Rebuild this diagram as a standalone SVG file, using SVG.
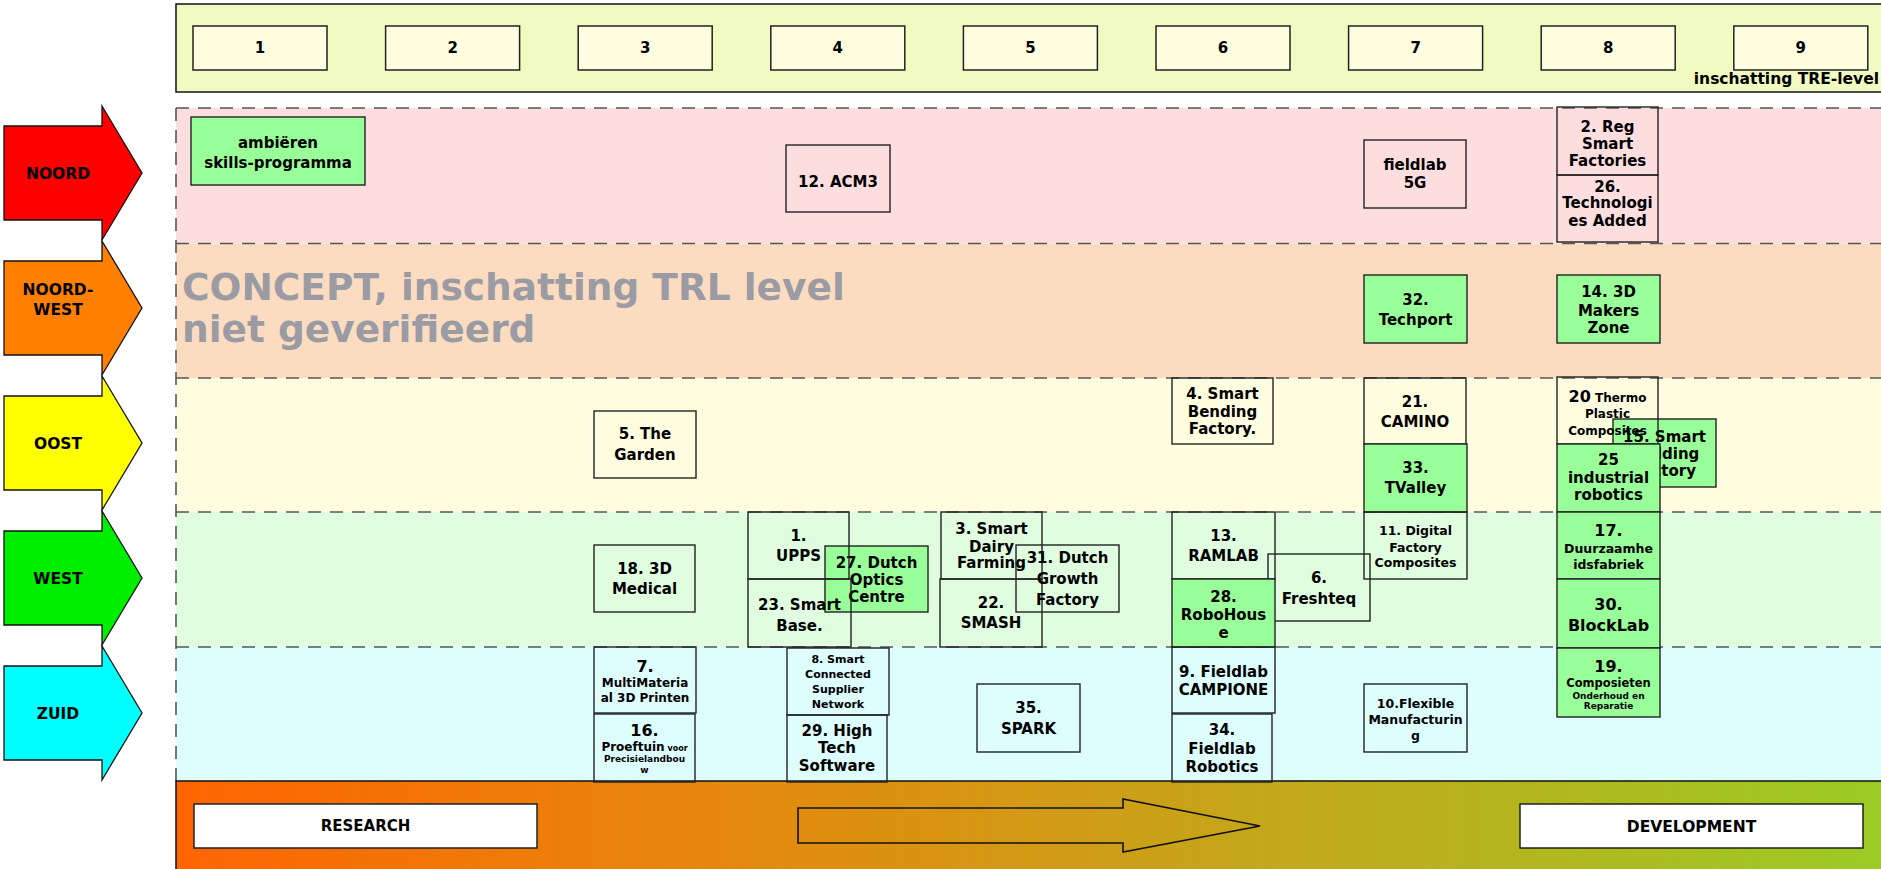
<svg xmlns="http://www.w3.org/2000/svg" xmlns:xlink="http://www.w3.org/1999/xlink" width="1881" height="869" viewBox="0 0 1881 869">
<style>
.t{font-family:"DejaVu Sans","Liberation Sans",sans-serif;font-weight:bold;text-anchor:middle;fill:#000}
.s15{font-size:15px}.s16{font-size:16px}.s125{font-size:12.5px}.s12{font-size:12px}.s11{font-size:11px}.s9{font-size:9px}
.lab{font-size:15.5px}
.n{fill:none;stroke:#222;stroke-width:1.4}
.g{fill:#99FF99;stroke:#222;stroke-width:1.4}
.trl{fill:#FFFDE0;stroke:#222;stroke-width:1.5}
.dash{stroke:#555;stroke-width:1.6;stroke-dasharray:13 9;fill:none}
.reg{stroke:#111;stroke-width:1.3}
</style>
<defs>
<linearGradient id="grad" x1="176" y1="0" x2="1881" y2="0" gradientUnits="userSpaceOnUse">
<stop offset="0" stop-color="#FF6500"/>
<stop offset="0.35" stop-color="#E38B0E"/>
<stop offset="0.65" stop-color="#C2A81A"/>
<stop offset="1" stop-color="#9CCB24"/>
</linearGradient>
<polygon id="regArrow" points="4,-47 102,-47 102,-67 142,0 102,67 102,47 4,47"/>
</defs>
<rect width="1881" height="869" fill="#fff"/>

<!-- TRL header band -->
<g id="trl-header">
<rect x="176" y="4" width="1712" height="88" fill="#F1FBC1" stroke="#111" stroke-width="1.5"/>
<rect class="trl" x="193" y="26" width="134" height="44"/><text class="t s15" x="260" y="53.4">1</text>
<rect class="trl" x="385.6" y="26" width="134" height="44"/><text class="t s15" x="452.6" y="53.4">2</text>
<rect class="trl" x="578.2" y="26" width="134" height="44"/><text class="t s15" x="645.2" y="53.4">3</text>
<rect class="trl" x="770.8" y="26" width="134" height="44"/><text class="t s15" x="837.8" y="53.4">4</text>
<rect class="trl" x="963.4" y="26" width="134" height="44"/><text class="t s15" x="1030.4" y="53.4">5</text>
<rect class="trl" x="1156" y="26" width="134" height="44"/><text class="t s15" x="1223" y="53.4">6</text>
<rect class="trl" x="1348.6" y="26" width="134" height="44"/><text class="t s15" x="1415.6" y="53.4">7</text>
<rect class="trl" x="1541.2" y="26" width="134" height="44"/><text class="t s15" x="1608.2" y="53.4">8</text>
<rect class="trl" x="1733.8" y="26" width="134" height="44"/><text class="t s15" x="1800.8" y="53.4">9</text>
<text class="t" x="1879" y="84" style="font-size:15.5px;text-anchor:end">inschatting TRE-level</text>
</g>

<!-- lanes -->
<g id="lanes">
<rect x="176" y="108" width="1712" height="135.5" fill="#FDDEDF"/>
<rect x="176" y="243.5" width="1712" height="134.5" fill="#FCDCC1"/>
<rect x="176" y="378" width="1712" height="134" fill="#FFFDE0"/>
<rect x="176" y="512" width="1712" height="135" fill="#E0FDE0"/>
<rect x="176" y="647" width="1712" height="134" fill="#DEFEFE"/>
<path class="dash" d="M176 108H1881M176 243.5H1881M176 378H1881M176 512H1881M176 647H1881M176 108V781"/>
</g>

<!-- region arrows -->
<g id="region-noord"><use xlink:href="#regArrow" href="#regArrow" class="reg" fill="#FF0000" transform="translate(0,173)"/><text class="t lab" x="58" y="178.6">NOORD</text></g>
<g id="region-noordwest"><use xlink:href="#regArrow" href="#regArrow" class="reg" fill="#FF8000" transform="translate(0,308)"/><text class="t lab" x="58" y="294.6">NOORD-</text><text class="t lab" x="58" y="314.6">WEST</text></g>
<g id="region-oost"><use xlink:href="#regArrow" href="#regArrow" class="reg" fill="#FFFF00" transform="translate(0,443)"/><text class="t lab" x="58" y="448.6">OOST</text></g>
<g id="region-west"><use xlink:href="#regArrow" href="#regArrow" class="reg" fill="#00EE00" transform="translate(0,578)"/><text class="t lab" x="58" y="583.6">WEST</text></g>
<g id="region-zuid"><use xlink:href="#regArrow" href="#regArrow" class="reg" fill="#00FFFF" transform="translate(0,713)"/><text class="t lab" x="58" y="718.6">ZUID</text></g>

<!-- concept watermark -->
<g id="concept-note">
<text x="182" y="300" style="font-family:'DejaVu Sans','Liberation Sans',sans-serif;font-weight:bold;font-size:37.5px;fill:#9B9BA3">CONCEPT, inschatting TRL level</text>
<text x="182" y="342" style="font-family:'DejaVu Sans','Liberation Sans',sans-serif;font-weight:bold;font-size:37.5px;fill:#9B9BA3">niet geverifieerd</text>
</g>

<!-- bottom band -->
<g id="research-development">
<rect x="176" y="781" width="1712" height="92" fill="url(#grad)" stroke="#111" stroke-width="1.5"/>
<rect x="194" y="804" width="343" height="44" fill="#fff" stroke="#222" stroke-width="1.5"/>
<text class="t s15" x="365.5" y="831.4">RESEARCH</text>
<rect x="1520" y="804" width="343" height="44" fill="#fff" stroke="#222" stroke-width="1.5"/>
<text class="t" x="1691.5" y="831.6" style="font-size:15.5px">DEVELOPMENT</text>
</g>
<g id="connectors">
<polygon points="798,808 1123,808 1123,799 1260,826 1123,852 1123,843 798,843" fill="none" stroke="#111" stroke-width="1.6"/>
</g>

<!-- NOORD nodes -->
<g id="node-ambieren"><rect class="g" x="191" y="117" width="174" height="68"/><text class="t s15" x="278" y="148.4">ambiëren</text><text class="t s15" x="278" y="168.4">skills-programma</text></g>
<g id="node-12"><rect class="n" x="786" y="145" width="104" height="67"/><text class="t s15" x="838" y="187.4">12. ACM3</text></g>
<g id="node-fieldlab5g"><rect class="n" x="1364" y="140" width="102" height="68"/><text class="t s15" x="1415" y="170.4">fieldlab</text><text class="t s15" x="1415" y="188.4">5G</text></g>
<g id="node-2"><rect class="n" x="1557" y="107" width="101" height="68"/><text class="t s15" x="1607.5" y="132.4">2. Reg</text><text class="t s15" x="1607.5" y="149.4">Smart</text><text class="t s15" x="1607.5" y="166.4">Factories</text></g>
<g id="node-26"><rect class="n" x="1557" y="175" width="101" height="67"/><text class="t s15" x="1607.5" y="192.4">26.</text><text class="t s15" x="1607.5" y="208.4">Technologi</text><text class="t s15" x="1607.5" y="226.4">es Added</text></g>

<!-- NOORD-WEST nodes -->
<g id="node-32"><rect class="g" x="1364" y="275" width="103" height="68"/><text class="t s15" x="1415.5" y="305.4">32.</text><text class="t s15" x="1415.5" y="325.4">Techport</text></g>
<g id="node-14"><rect class="g" x="1557" y="275" width="103" height="68"/><text class="t s15" x="1608.5" y="297.4">14. 3D</text><text class="t s15" x="1608.5" y="316.4">Makers</text><text class="t s15" x="1608.5" y="333.4">Zone</text></g>

<!-- OOST nodes -->
<g id="node-5"><rect class="n" x="594" y="411" width="102" height="67"/><text class="t s15" x="645" y="439.4">5. The</text><text class="t s15" x="645" y="460.4">Garden</text></g>
<g id="node-4"><rect class="n" x="1172" y="378" width="101" height="66"/><text class="t s15" x="1222.5" y="399.4">4. Smart</text><text class="t s15" x="1222.5" y="417.4">Bending</text><text class="t s15" x="1222.5" y="434.4">Factory.</text></g>
<g id="node-21"><rect class="n" x="1364" y="378" width="102" height="66"/><text class="t s15" x="1415" y="407.4">21.</text><text class="t s15" x="1415" y="427.4">CAMINO</text></g>
<g id="node-33"><rect class="g" x="1364" y="444" width="103" height="68"/><text class="t s15" x="1415.5" y="473.4">33.</text><text class="t s15" x="1415.5" y="493.4">TValley</text></g>
<g id="node-15"><rect class="g" x="1613" y="419" width="103" height="68"/><text class="t s15" x="1664.5" y="442.4">15. Smart</text><text class="t s15" x="1664.5" y="459.4">Building</text><text class="t s15" x="1664.5" y="476.4">Factory</text></g>
<g id="node-20"><rect class="n" x="1557" y="377" width="101" height="67"/><text class="t s12" x="1607.5" y="401.5"><tspan class="s16">20</tspan> Thermo</text><text class="t s12" x="1607.5" y="417.5">Plastic</text><text class="t s12" x="1607.5" y="434.5">Composites</text></g>
<g id="node-25"><rect class="g" x="1557" y="444" width="103" height="68"/><text class="t s15" x="1608.5" y="465.4">25</text><text class="t s15" x="1608.5" y="483.4">industrial</text><text class="t s15" x="1608.5" y="500.4">robotics</text></g>

<!-- WEST nodes -->
<g id="node-18"><rect class="n" x="594" y="545" width="101" height="67"/><text class="t s15" x="644.5" y="574.4">18. 3D</text><text class="t s15" x="644.5" y="594.4">Medical</text></g>
<g id="node-27"><rect class="g" x="825" y="546" width="103" height="66"/><text class="t s15" x="876.5" y="568.4">27. Dutch</text><text class="t s15" x="876.5" y="585.4">Optics</text><text class="t s15" x="876.5" y="602.4">Centre</text></g>
<g id="node-1"><rect class="n" x="748" y="512" width="101" height="67"/><text class="t s15" x="798.5" y="541.4">1.</text><text class="t s15" x="798.5" y="561.4">UPPS</text></g>
<g id="node-23"><rect class="n" x="748" y="579" width="103" height="68"/><text class="t s15" x="799.5" y="610.4">23. Smart</text><text class="t s15" x="799.5" y="631.4">Base.</text></g>
<g id="node-3"><rect class="n" x="941" y="512" width="101" height="67"/><text class="t s15" x="991.5" y="534.4">3. Smart</text><text class="t s15" x="991.5" y="552.4">Dairy</text><text class="t s15" x="991.5" y="568.4">Farming</text></g>
<g id="node-22"><rect class="n" x="940" y="579" width="102" height="68"/><text class="t s15" x="991" y="608.4">22.</text><text class="t s15" x="991" y="628.4">SMASH</text></g>
<g id="node-31"><rect class="n" x="1016" y="545" width="103" height="67"/><text class="t s15" x="1067.5" y="563.4">31. Dutch</text><text class="t s15" x="1067.5" y="584.4">Growth</text><text class="t s15" x="1067.5" y="605.4">Factory</text></g>
<g id="node-13"><rect class="n" x="1172" y="512" width="103" height="67"/><text class="t s15" x="1223.5" y="541.4">13.</text><text class="t s15" x="1223.5" y="561.4">RAMLAB</text></g>
<g id="node-6"><rect class="n" x="1268" y="554" width="102" height="67"/><text class="t s15" x="1319" y="583.4">6.</text><text class="t s15" x="1319" y="604.4">Freshteq</text></g>
<g id="node-28"><rect class="g" x="1172" y="579" width="103" height="68"/><text class="t s15" x="1223.5" y="602.4">28.</text><text class="t s15" x="1223.5" y="620.4">RoboHous</text><text class="t s15" x="1223.5" y="638.4">e</text></g>
<g id="node-11"><rect class="n" x="1364" y="512" width="103" height="67"/><text class="t s125" x="1415.5" y="534.5">11. Digital</text><text class="t s125" x="1415.5" y="551.5">Factory</text><text class="t s125" x="1415.5" y="566.5">Composites</text></g>
<g id="node-17"><rect class="g" x="1557" y="512" width="103" height="67"/><text class="t s16" x="1608.5" y="535.8">17.</text><text class="t s125" x="1608.5" y="552.5">Duurzaamhe</text><text class="t s125" x="1608.5" y="568.5">idsfabriek</text></g>
<g id="node-30"><rect class="g" x="1557" y="579" width="103" height="69"/><text class="t s16" x="1608.5" y="609.8">30.</text><text class="t s16" x="1608.5" y="630.8">BlockLab</text></g>

<!-- ZUID nodes -->
<g id="node-7"><rect class="n" x="594" y="647" width="102" height="66"/><text class="t s16" x="645" y="671.8">7.</text><text class="t s12" x="645" y="687.3">MultiMateria</text><text class="t s12" x="645" y="702.3">al 3D Printen</text></g>
<g id="node-16"><rect class="n" x="594" y="714" width="101" height="68"/><text class="t s16" x="644.5" y="735.8">16.</text><text class="t s12" x="644.5" y="751.3">Proeftuin<tspan style="font-size:8px"> voor</tspan></text><text class="t s9" x="644.5" y="762.2">Precisielandbou</text><text class="t s9" x="644.5" y="773">w</text></g>
<g id="node-8"><rect class="n" x="787" y="648" width="102" height="67"/><text class="t s11" x="838" y="663">8. Smart</text><text class="t s11" x="838" y="678">Connected</text><text class="t s11" x="838" y="693">Supplier</text><text class="t s11" x="838" y="708">Network</text></g>
<g id="node-29"><rect class="n" x="787" y="715" width="100" height="67"/><text class="t s15" x="837" y="736.4">29. High</text><text class="t s15" x="837" y="753.4">Tech</text><text class="t s15" x="837" y="771.4">Software</text></g>
<g id="node-35"><rect class="n" x="977" y="684" width="103" height="68"/><text class="t s15" x="1028.5" y="713.4">35.</text><text class="t s15" x="1028.5" y="734.4">SPARK</text></g>
<g id="node-9"><rect class="n" x="1172" y="647" width="103" height="66"/><text class="t s15" x="1223.5" y="677.4">9. Fieldlab</text><text class="t s15" x="1223.5" y="695.4">CAMPIONE</text></g>
<g id="node-34"><rect class="n" x="1172" y="714" width="100" height="68"/><text class="t s15" x="1222" y="735.4">34.</text><text class="t s15" x="1222" y="754.4">Fieldlab</text><text class="t s15" x="1222" y="772.4">Robotics</text></g>
<g id="node-10"><rect class="n" x="1364" y="684" width="103" height="68"/><text class="t s125" x="1415.5" y="707.5">10.Flexible</text><text class="t s125" x="1415.5" y="723.5">Manufacturin</text><text class="t s125" x="1415.5" y="739.5">g</text></g>
<g id="node-19"><rect class="g" x="1557" y="648" width="103" height="69"/><text class="t s16" x="1608.5" y="671.8">19.</text><text class="t" x="1608.5" y="687" style="font-size:11.5px">Composieten</text><text class="t s9" x="1608.5" y="699.2">Onderhoud en</text><text class="t s9" x="1608.5" y="709.2">Reparatie</text></g>
</svg>
